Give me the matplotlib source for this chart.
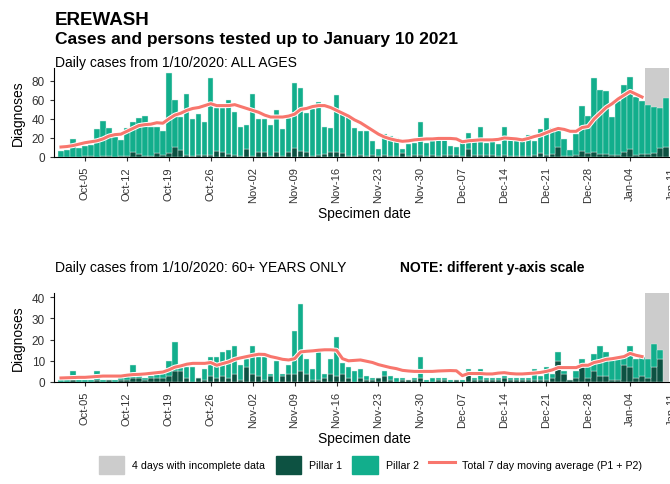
import matplotlib
matplotlib.use("Agg")
import matplotlib.pyplot as plt
import matplotlib.dates as mdates
import matplotlib.patheffects as pe
from matplotlib.patches import Patch
from matplotlib.lines import Line2D
import pandas as pd

plt.rcParams["font.family"] = ["Liberation Sans", "DejaVu Sans"]

dates = pd.date_range("2020-10-01", "2021-01-10", freq="D")

# all ages: total daily cases (P1 + P2) and Pillar 1
all_total = [
    6, 7, 19, 9, 12, 13, 29, 38, 30, 21,
    18, 30, 37, 41, 43, 31, 31, 27, 88, 60,
    42, 66, 40, 45, 37, 83, 51, 51, 60, 47,
    31, 34, 66, 40, 40, 34, 49, 29, 41, 78,
    73, 46, 50, 58, 32, 30, 65, 46, 43, 30,
    27, 27, 17, 8, 24, 22, 20, 8, 14, 15,
    37, 15, 17, 18, 18, 12, 10, 16, 25, 16,
    32, 15, 17, 14, 32, 18, 18, 17, 23, 17,
    29, 41, 30, 29, 19, 7, 24, 54, 43, 83,
    70, 69, 42, 59, 76, 84, 63, 59, 55, 53,
    52, 62,
]
all_p1 = [
    0, 0, 0, 0, 1, 1, 0, 1, 1, 0,
    1, 1, 5, 3, 1, 1, 4, 2, 4, 10,
    7, 2, 1, 2, 2, 2, 6, 5, 3, 2,
    1, 8, 1, 5, 5, 1, 5, 1, 5, 9,
    6, 5, 1, 2, 3, 5, 5, 4, 1, 1,
    2, 1, 2, 1, 2, 1, 1, 4, 1, 2,
    2, 1, 2, 1, 2, 2, 2, 1, 8, 2,
    2, 2, 2, 1, 2, 1, 1, 1, 1, 2,
    4, 2, 3, 11, 1, 1, 2, 6, 4, 5,
    3, 3, 2, 2, 5, 8, 2, 3, 3, 4,
    9, 10,
]
all_avg = [
    10.5, 11, 12, 13.5, 15, 16, 17, 19, 22, 23.5,
    24, 27, 30, 33, 34, 34.5, 36, 35.5, 40, 44,
    46, 49, 51, 52, 54, 56, 54, 54, 54, 55,
    53, 51, 49, 47, 44, 42, 42, 42, 43, 45,
    50, 51, 53, 54, 54, 52, 49, 46, 43, 39,
    36, 32, 28, 24, 21, 19, 17.5, 16.5, 17, 18,
    18.5, 19, 19, 19.5, 19.5, 19.5, 19, 16, 17, 17.5,
    18, 18, 18, 18.5, 20, 19.5, 19, 18, 19.5, 21.5,
    23, 25.5, 28, 30, 29, 27, 27, 31, 32, 40,
    46, 52, 56, 61, 65, 69, 66, 63,
]

# 60+ years
old_total = [
    1, 1, 5, 1, 1, 1, 5, 1, 1, 1,
    2, 4, 8, 3, 2, 3, 4, 5, 10, 19,
    8, 7, 7, 2, 6, 12, 12, 14, 15, 17,
    8, 11, 17, 12, 12, 4, 10, 4, 8, 24,
    37, 11, 6, 14, 4, 11, 21, 9, 7, 5,
    6, 3, 2, 2, 5, 3, 2, 2, 1, 2,
    12, 1, 2, 2, 2, 1, 1, 1, 6, 2,
    6, 2, 2, 2, 3, 2, 2, 2, 2, 6,
    3, 7, 4, 14, 5, 1, 5, 11, 8, 13,
    17, 14, 11, 12, 12, 17, 11, 12, 11, 18,
    15, 0,
]
old_p1 = [
    0, 0, 1, 0, 0, 0, 1, 0, 1, 0,
    1, 1, 2, 2, 1, 2, 2, 2, 3, 5,
    5, 2, 0, 2, 1, 3, 2, 3, 2, 4,
    1, 7, 4, 3, 1, 3, 0, 3, 4, 4,
    5, 4, 1, 1, 2, 4, 3, 4, 2, 0,
    2, 1, 1, 2, 3, 1, 0, 1, 1, 1,
    2, 0, 0, 1, 1, 0, 1, 0, 5, 1,
    1, 1, 1, 1, 2, 1, 1, 1, 1, 1,
    1, 1, 2, 10, 4, 1, 2, 7, 2, 5,
    3, 3, 1, 1, 8, 7, 2, 3, 2, 7,
    11, 0,
]
old_avg = [
    1.9, 2, 2.1, 2.2, 2.2, 2.4, 2.6, 2.8, 2.8, 2.8,
    2.8, 3.2, 3.5, 3.6, 3.8, 4.1, 4.4, 4.7, 5.7, 7,
    7.6, 8.4, 8.8, 8.8, 8.8, 9.2, 7.9, 8.7, 9.5, 10.7,
    11.4, 12, 12.6, 13.1, 13, 12, 11.4, 10.7, 10.4, 11,
    14.2, 14.5, 14.7, 15, 15.2, 15.2, 15, 11, 10, 10.2,
    10.4, 9.8, 9.2, 8.2, 7.5, 6.8, 6.3, 5.5, 5.2, 5,
    5, 5, 5, 5.2, 5.3, 5.4, 5.3, 3, 4, 4,
    4, 3.8, 3.8, 4.2, 4.4, 4, 3.8, 3.8, 4, 4.2,
    4.5, 5, 5.7, 6.8, 6.8, 6.8, 6.8, 7.9, 7.9, 9.2,
    9.8, 10.7, 11, 11.5, 12, 13.5, 12.6, 12,
]

incomplete = ("2021-01-06 12:00", "2021-01-10 12:00")
C_P1 = "#0d5242"
C_P2 = "#12ae8c"
C_AVG = "#f8766d"
C_GREY = "#cccccc"

W, H = 670, 485
fig = plt.figure(figsize=(W / 100, H / 100), dpi=100)


def px(x0, y0, x1, y1):
    return [x0 / W, 1 - y1 / H, (x1 - x0) / W, (y1 - y0) / H]


def panel(ax, total, p1, avg, ymax, yticks):
    p2 = [t - a for t, a in zip(total, p1)]
    ax.axvspan(pd.Timestamp(incomplete[0]), pd.Timestamp(incomplete[1]),
               color=C_GREY, lw=0, zorder=0)
    ax.bar(dates, p1, width=0.9, color=C_P1, edgecolor="#d9efe8",
           linewidth=0.3, zorder=2)
    ax.bar(dates, p2, bottom=p1, width=0.9, color=C_P2, edgecolor="#d9efe8",
           linewidth=0.3, zorder=2)
    ax.plot(dates[:len(avg)], avg, color=C_AVG, lw=2.2, zorder=3,
            path_effects=[pe.Stroke(linewidth=3.6, foreground="white"), pe.Normal()])
    ax.set_xlim(pd.Timestamp("2020-09-29 20:00"), pd.Timestamp("2021-01-11 12:00"))
    ax.set_ylim(0, ymax)
    ax.set_yticks(yticks)
    ax.xaxis.set_major_locator(mdates.WeekdayLocator(byweekday=mdates.MO))
    ax.xaxis.set_major_formatter(mdates.DateFormatter("%b-%d"))
    ax.tick_params(axis="x", rotation=90, labelsize=8, length=3, colors="#333333")
    ax.tick_params(axis="y", labelsize=8.5, length=3, colors="#333333")
    ax.spines[["top", "right"]].set_visible(False)
    ax.set_ylabel("Diagnoses", fontsize=10, labelpad=5)
    ax.set_xlabel("Specimen date", fontsize=10, labelpad=3)


ax1 = fig.add_axes(px(54, 69, 675, 158))
panel(ax1, all_total, all_p1, all_avg, 93.5, [0, 20, 40, 60, 80])
ax2 = fig.add_axes(px(54, 294, 675, 383))
panel(ax2, old_total, old_p1, old_avg, 42, [0, 10, 20, 30, 40])

fig.text(55 / W, 1 - 25 / H, "EREWASH", fontsize=13.5, fontweight="bold")
fig.text(55 / W, 1 - 44 / H, "Cases and persons tested up to January 10 2021",
         fontsize=12.5, fontweight="bold")
fig.text(55 / W, 1 - 67 / H, "Daily cases from 1/10/2020: ALL AGES", fontsize=10)
fig.text(55 / W, 1 - 272 / H, "Daily cases from 1/10/2020: 60+ YEARS ONLY", fontsize=10)
fig.text(400 / W, 1 - 272 / H, "NOTE: different y-axis scale", fontsize=10,
         fontweight="bold")

handles = [
    Patch(color=C_GREY),
    Patch(color=C_P1),
    Patch(color=C_P2),
    Line2D([0], [0], color=C_AVG, lw=2.2),
]
labels = ["4 days with incomplete data", "Pillar 1", "Pillar 2",
          "Total 7 day moving average (P1 + P2)"]
fig.legend(handles, labels, ncol=4, loc="center", bbox_to_anchor=(0.553, 1 - 466 / H),
           frameon=False, fontsize=7.7, handlelength=2.4, handleheight=2.2,
           columnspacing=1.0, handletextpad=0.7)

fig.savefig("out.png", dpi=100)
